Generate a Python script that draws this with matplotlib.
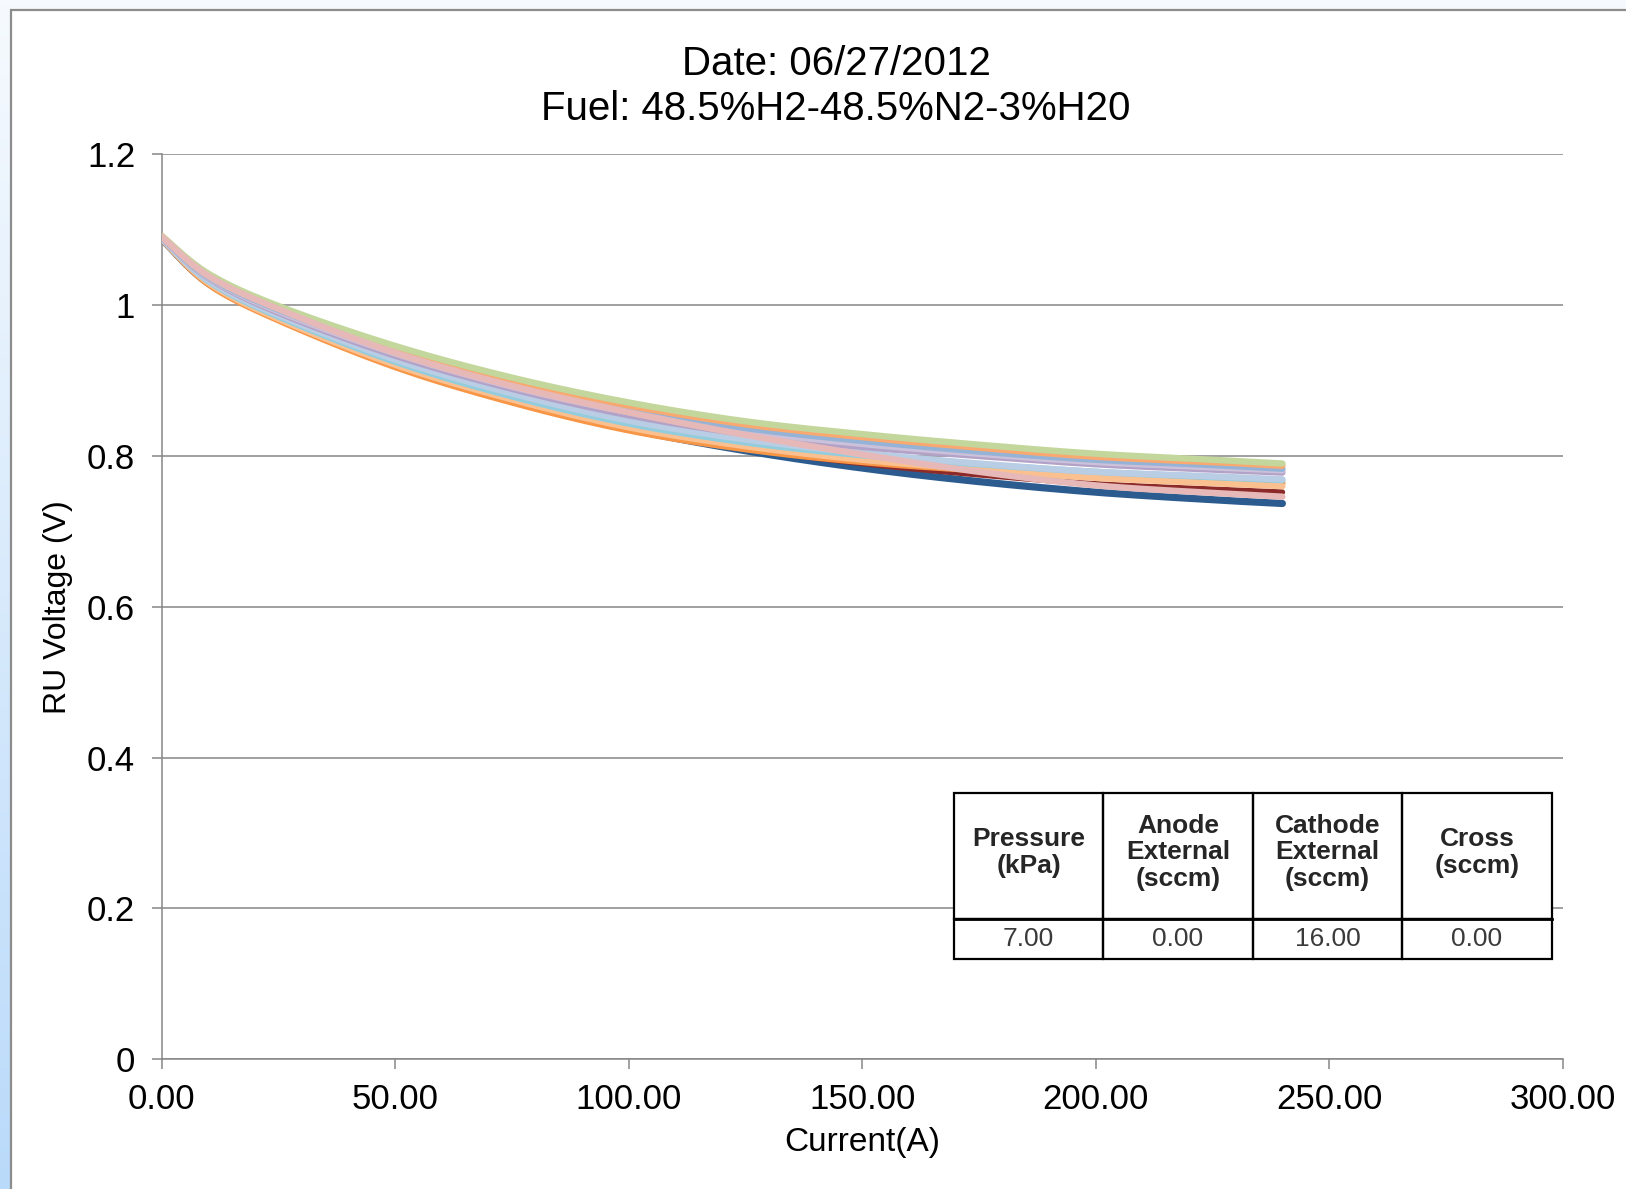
import numpy as np
import matplotlib
matplotlib.use("Agg")
from matplotlib import pyplot as plt
from matplotlib.patches import Rectangle

plt.rcParams["font.family"] = ["Liberation Sans", "DejaVu Sans"]

# Polarisation curves, current in A and RU voltage in V
current_a = [0, 10, 25, 50, 75, 100, 125, 150, 175, 200, 225, 240]

run_blue = [1.088, 1.029, 0.982, 0.920, 0.874, 0.836, 0.807, 0.784, 0.766, 0.752, 0.742, 0.737]
run_red = [1.088, 1.029, 0.982, 0.920, 0.874, 0.837, 0.810, 0.790, 0.775, 0.763, 0.756, 0.752]
run_orange = [1.088, 1.028, 0.980, 0.918, 0.871, 0.834, 0.809, 0.792, 0.781, 0.773, 0.767, 0.764]
run_peach = [1.088, 1.030, 0.982, 0.921, 0.875, 0.838, 0.813, 0.795, 0.782, 0.771, 0.764, 0.760]
run_aqua = [1.089, 1.032, 0.985, 0.925, 0.879, 0.843, 0.818, 0.801, 0.789, 0.779, 0.772, 0.768]
run_ltblue = [1.089, 1.033, 0.987, 0.928, 0.883, 0.847, 0.822, 0.804, 0.790, 0.779, 0.773, 0.769]
run_lavender = [1.090, 1.036, 0.990, 0.933, 0.889, 0.854, 0.829, 0.812, 0.800, 0.789, 0.782, 0.778]
run_lilac = [1.091, 1.037, 0.992, 0.936, 0.892, 0.858, 0.833, 0.816, 0.803, 0.792, 0.785, 0.781]
run_steel = [1.091, 1.038, 0.994, 0.939, 0.896, 0.862, 0.837, 0.820, 0.806, 0.795, 0.788, 0.783]
run_orange2 = [1.092, 1.040, 0.997, 0.943, 0.900, 0.867, 0.842, 0.825, 0.811, 0.799, 0.792, 0.787]
run_green = [1.092, 1.042, 0.999, 0.946, 0.904, 0.871, 0.846, 0.829, 0.815, 0.803, 0.795, 0.790]
run_pink = [1.091, 1.039, 0.995, 0.937, 0.893, 0.858, 0.828, 0.802, 0.779, 0.761, 0.751, 0.746]

runs = [
    (run_blue, "#2c5c8f", 5.2),
    (run_red, "#8b2a28", 4.0),
    (run_orange, "#f79646", 4.6),
    (run_peach, "#fac090", 4.6),
    (run_aqua, "#93cddd", 4.6),
    (run_ltblue, "#b9cde5", 4.6),
    (run_lavender, "#b3a2c7", 4.6),
    (run_lilac, "#ccc1da", 4.6),
    (run_steel, "#95b3d7", 4.6),
    (run_orange2, "#f9a870", 4.6),
    (run_green, "#c3d69b", 4.6),
    (run_pink, "#e6b9b8", 4.6),
]

y_ticks = [0, 0.2, 0.4, 0.6, 0.8, 1.0, 1.2]
y_labels = ["0", "0.2", "0.4", "0.6", "0.8", "1", "1.2"]
x_ticks = [0, 50, 100, 150, 200, 250, 300]

table_head = ["Pressure\n(kPa)", "Anode\nExternal\n(sccm)", "Cathode\nExternal\n(sccm)", "Cross\n(sccm)"]
table_vals = ["7.00", "0.00", "16.00", "0.00"]

GRID = "#868686"


def smooth_line(xs, ys, steps=24):
    """Catmull-Rom path through the points, like a spreadsheet smoothed line"""
    p = np.column_stack([xs, ys]).astype(float)
    p = np.vstack([p[0], p, p[-1]])
    t = np.linspace(0, 1, steps, endpoint=False)[:, None]
    out = []
    for k in range(1, len(p) - 2):
        p0, p1, p2, p3 = p[k - 1], p[k], p[k + 1], p[k + 2]
        seg = 0.5 * (2 * p1 + (p2 - p0) * t
                     + (2 * p0 - 5 * p1 + 4 * p2 - p3) * t ** 2
                     + (3 * p1 - p0 - 3 * p2 + p3) * t ** 3)
        out.append(seg)
    out.append(p[-2][None, :])
    out = np.vstack(out)
    return out[:, 0], out[:, 1]


fig = plt.figure(figsize=(16.26, 11.89), dpi=100)

# slide background: pale blue getting stronger towards the bottom
bg = fig.add_axes([0, 0, 1, 1])
grad = np.linspace(0, 1, 256)[:, None]
top_c = np.array([246, 250, 254]) / 255
bot_c = np.array([186, 218, 250]) / 255
img = top_c[None, None, :] * (1 - grad[..., None]) + bot_c[None, None, :] * grad[..., None]
bg.imshow(img, extent=[0, 1, 0, 1], aspect="auto", origin="upper")
bg.add_patch(Rectangle((11 / 1626, -0.05), 1.1, 1 - 10 / 1189 + 0.05,
                       facecolor="white", edgecolor="#8c8c8c", lw=1.6))
bg.set_xlim(0, 1)
bg.set_ylim(0, 1)
bg.axis("off")

ax = fig.add_axes([0.0994, 0.1093, 0.8616, 0.7608])
for volts, col, lw in runs:
    sx, sy = smooth_line(current_a, volts)
    ax.plot(sx, sy, color=col, lw=lw, solid_capstyle="round",
            solid_joinstyle="round", zorder=3)

ax.set_xlim(0, 300)
ax.set_ylim(0, 1.2)
ax.set_yticks(y_ticks)
ax.set_yticklabels(y_labels)
ax.set_xticks(x_ticks)
ax.set_xticklabels(["{0:.2f}".format(v) for v in x_ticks])
ax.grid(axis="y", color=GRID, lw=1.1)
ax.set_axisbelow(True)
for side in ["top", "right"]:
    ax.spines[side].set_visible(False)
for side in ["left", "bottom"]:
    ax.spines[side].set_color(GRID)
    ax.spines[side].set_linewidth(1.1)
ax.tick_params(axis="y", length=7, width=1.1, color=GRID, pad=12, labelsize=25)
ax.tick_params(axis="x", length=7, width=1.1, color=GRID, pad=10, labelsize=25)
ax.set_facecolor("none")

ax.set_xlabel("Current(A)", fontsize=24, labelpad=8)
ax.set_ylabel("RU Voltage (V)", fontsize=23, labelpad=10)

fig.text(836 / 1626, 1 - 64 / 1189, "Date: 06/27/2012", fontsize=29,
         ha="center", va="center")
fig.text(836 / 1626, 1 - 109 / 1189, "Fuel: 48.5%H2-48.5%N2-3%H20", fontsize=29,
         ha="center", va="center")

# parameter table inside the plot area
t_left, t_right = 0.5655, 0.9922
t_bottom, t_mid, t_top = 0.1105, 0.1547, 0.294
col_w = (t_right - t_left) / len(table_head)
tr = ax.transAxes
ax.add_patch(Rectangle((t_left, t_bottom), t_right - t_left, t_top - t_bottom,
                       transform=tr, facecolor="white", edgecolor="none", zorder=5))
for i, (head, val) in enumerate(zip(table_head, table_vals)):
    x0 = t_left + i * col_w
    ax.add_patch(Rectangle((x0, t_mid), col_w, t_top - t_mid, transform=tr,
                           facecolor="none", edgecolor="black", lw=1.6, zorder=6))
    ax.add_patch(Rectangle((x0, t_bottom), col_w, t_mid - t_bottom, transform=tr,
                           facecolor="none", edgecolor="black", lw=1.6, zorder=6))
    ax.text(x0 + col_w / 2, (t_mid + t_top) / 2 + 0.004, head, transform=tr,
            ha="center", va="center", fontsize=19, fontweight="bold",
            color="#262626", linespacing=1.12, zorder=7)
    ax.text(x0 + col_w / 2, (t_bottom + t_mid) / 2, val, transform=tr,
            ha="center", va="center", fontsize=19, color="#3a3a3a", zorder=7)
ax.plot([t_left, t_right], [t_mid, t_mid], transform=tr, color="black",
        lw=2.0, zorder=6)

fig.savefig("out.png", dpi=100)
